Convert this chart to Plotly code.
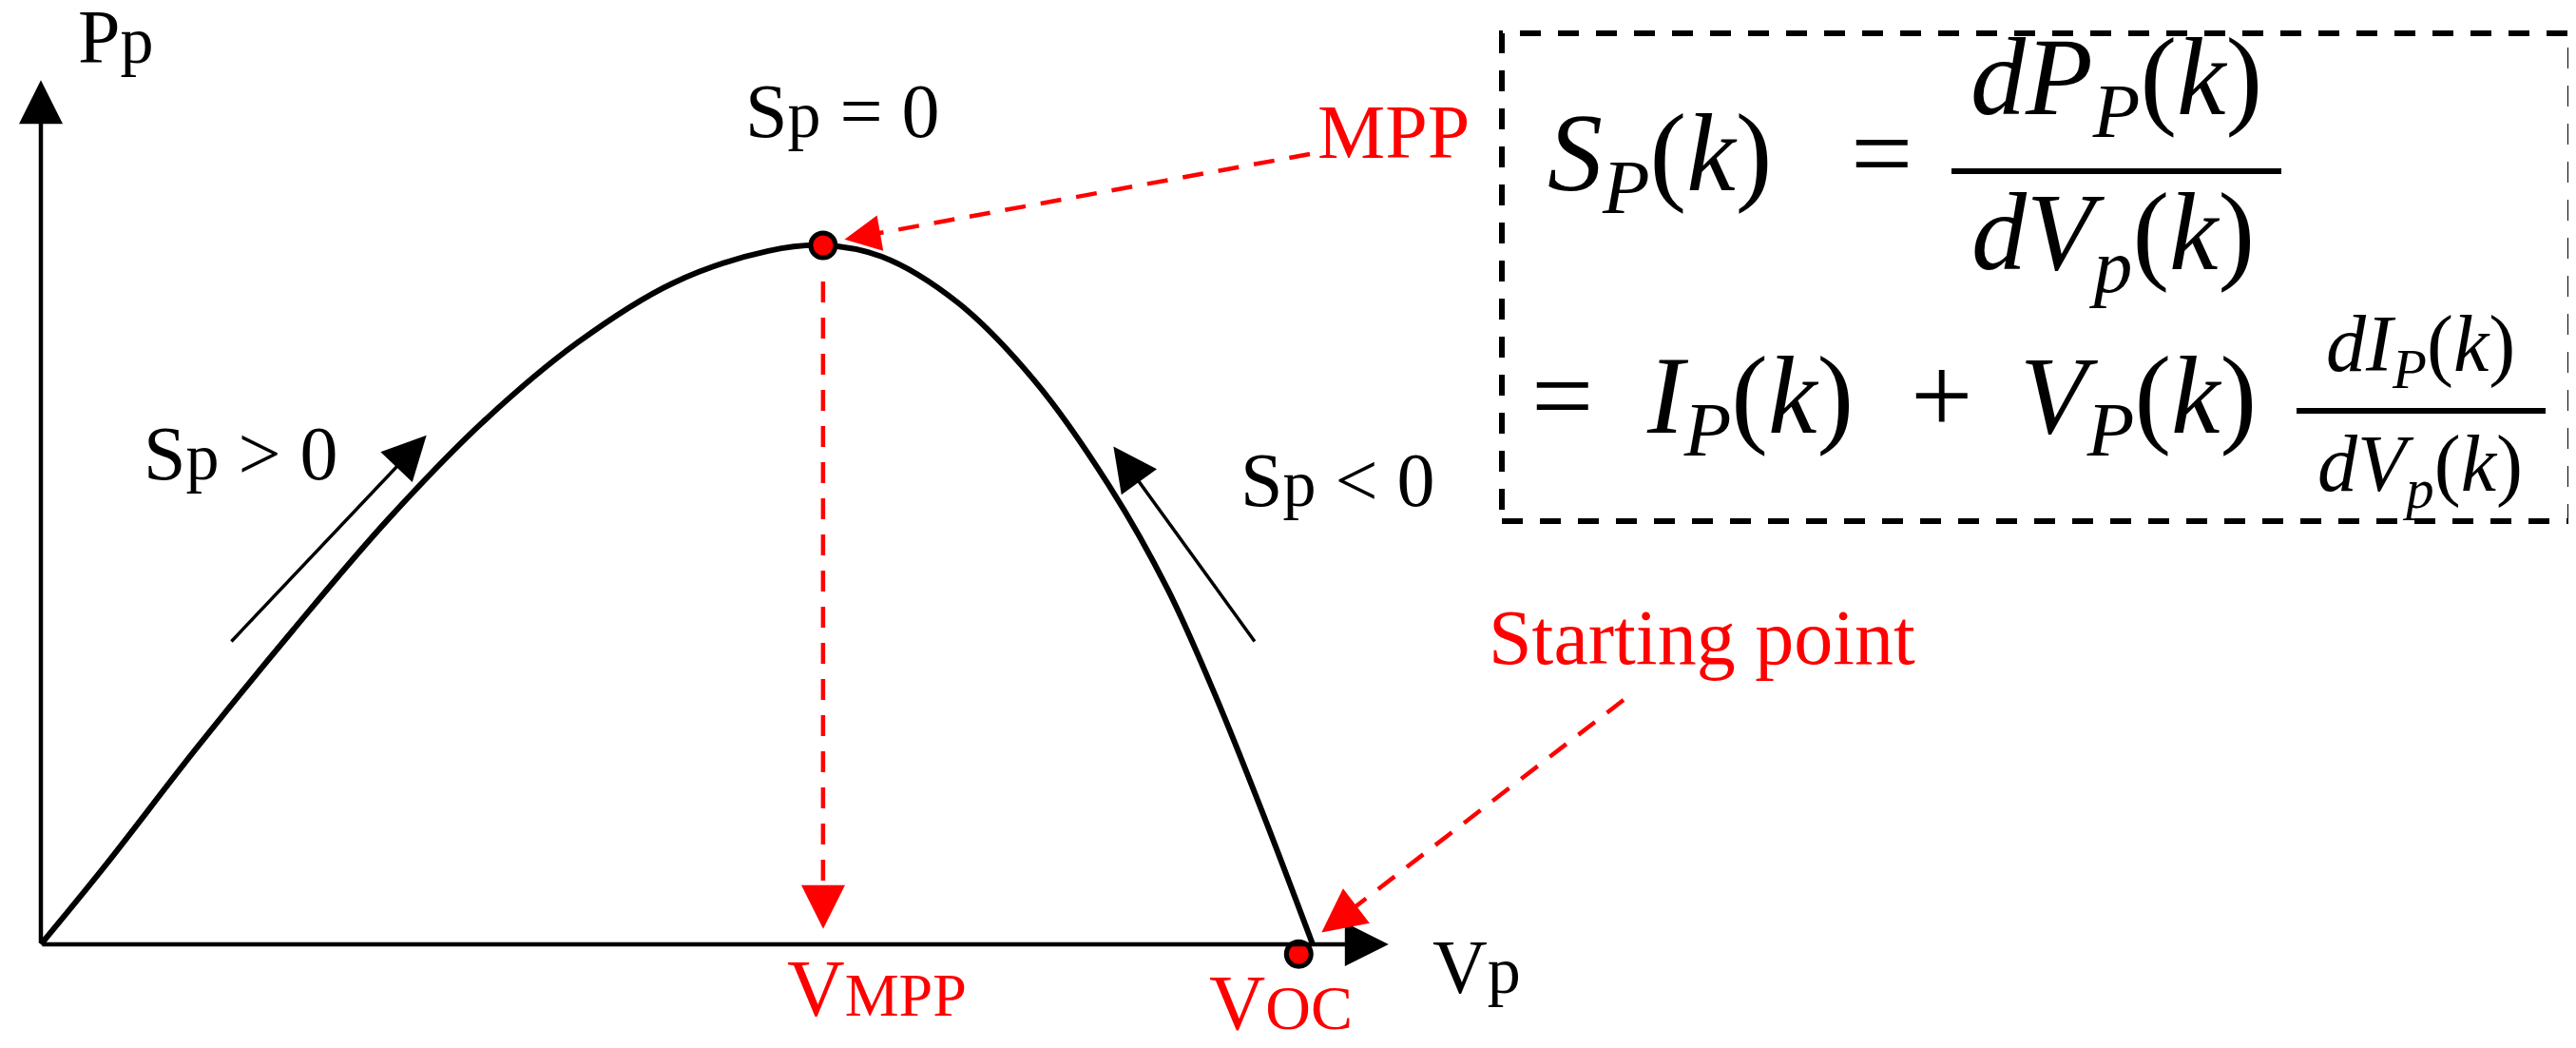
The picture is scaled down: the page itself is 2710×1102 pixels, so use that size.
import plotly.graph_objects as go

# P-V curve: voltage normalised so Voc = 1, power so P(MPP) = 1
v_curve = [0, 0.049, 0.123, 0.198, 0.273, 0.348, 0.422, 0.497, 0.572, 0.615,
           0.661, 0.721, 0.781, 0.841, 0.886, 0.923, 0.960, 1.0]
p_curve = [0, 0.109, 0.282, 0.449, 0.608, 0.748, 0.861, 0.946, 0.992, 1.0,
           0.984, 0.918, 0.807, 0.653, 0.508, 0.358, 0.191, 0.0]
v_mpp, p_mpp = 0.615, 1.0
v_oc, p_oc = 0.989, -0.014

W, H = 2710, 1102
SERIF = "Liberation Serif"
RED = "#ff0000"
LIFT = 8  # px, small vertical correction for text boxes

# pixel <-> data helpers (origin of the sketch at 35,985 px)
def dx(px):
    return (px - 35) / 1338.0

def dy(py):
    return (985 - py) / 735.0

def ppx(px):
    return px / W

def ppy(py):
    return 1 - py / H

fig = go.Figure()

fig.add_trace(go.Scatter(x=v_curve, y=p_curve, mode="lines",
                         line=dict(color="black", width=6, shape="spline", smoothing=1.0),
                         showlegend=False, hoverinfo="skip"))

dash = dict(color=RED, width=4.5, dash="22px,16px")
# Vmpp drop line
fig.add_trace(go.Scatter(x=[v_mpp, v_mpp], y=[dy(288), dy(935)], mode="lines",
                         line=dash, showlegend=False, hoverinfo="skip"))
# MPP pointer
fig.add_trace(go.Scatter(x=[dx(1370), dx(912)], y=[dy(154), dy(238)], mode="lines",
                         line=dash, showlegend=False, hoverinfo="skip"))
# starting point pointer
fig.add_trace(go.Scatter(x=[dx(1700), dx(1412)], y=[dy(728), dy(950)], mode="lines",
                         line=dash, showlegend=False, hoverinfo="skip"))

fig.add_trace(go.Scatter(x=[v_mpp, v_oc], y=[p_mpp, p_oc], mode="markers",
                         marker=dict(size=26, color=RED, line=dict(color="black", width=5)),
                         showlegend=False, hoverinfo="skip"))

annotations = []

def arrow(tip, tail, color, width, head_len):
    s = head_len / 5.0
    annotations.append(dict(x=dx(tip[0]), y=dy(tip[1]), ax=dx(tail[0]), ay=dy(tail[1]),
                            xref="x", yref="y", axref="x", ayref="y", text="",
                            showarrow=True, arrowhead=2, arrowcolor=color,
                            arrowwidth=width, arrowsize=s / width, standoff=s))

# axes
arrow((35, 67), (35, 985), "black", 4.5, 46)
arrow((1462, 985), (35, 985), "black", 4.5, 46)
# direction arrows
arrow((447, 443), (234, 668), "black", 3.5, 46)
arrow((1158, 454), (1313, 668), "black", 3.5, 46)
# red heads
arrow((873, 245), (913, 238), RED, 4.5, 38)
arrow((858, 978), (858, 930), RED, 4.5, 46)
arrow((1375, 978), (1413, 949), RED, 4.5, 46)


def label(text, x, baseline, size, color="black", anchor="left"):
    annotations.append(dict(x=ppx(x), y=ppy(baseline + 2 + 0.216 * size - LIFT), xref="paper", yref="paper",
                            text=text, showarrow=False, xanchor=anchor, yanchor="bottom",
                            font=dict(family=SERIF, size=size, color=color)))

sp = "S<span style='font-size:70px'>p</span>"
label("P<span style='font-size:70px'>p</span>", 72, 66, 80)
label(sp + " = 0", 774, 144, 80)
label("MPP", 1376, 166, 80, RED)
label(sp + " &gt; 0", 141, 504, 80)
label(sp + " &lt; 0", 1295, 532, 80)
label("Starting point", 1556, 698, 82, RED)
label("V<span style='font-size:64px'>MPP</span>", 818, 1068, 84, RED)
label("V<span style='font-size:66px'>OC</span>", 1339, 1082, 82, RED, "center")
label("V<span style='font-size:70px'>p</span>", 1497, 1044, 80)


def math(text, x, baseline, size, anchor="center"):
    annotations.append(dict(x=ppx(x), y=ppy(baseline - 2 - 0.891 * size - LIFT), xref="paper", yref="paper",
                            text=text, showarrow=False, xanchor=anchor, yanchor="top",
                            font=dict(family=SERIF, size=size, color="black")))

F1, F2 = 116, 84
math("<i>S</i><sub><i>P</i></sub>(<i>k</i>)", 1738, 200, F1)
math("=", 1971, 200, F1)
math("<i>dP</i><sub><i>P</i></sub>(<i>k</i>)", 2218, 120, F1)
math("<i>dV</i><sub><i>p</i></sub>(<i>k</i>)", 2215, 283, F1)
math("=", 1635, 455, F1)
math("<i>I</i><sub><i>P</i></sub>(<i>k</i>)", 1833, 455, F1)
math("+", 2034, 455, F1)
math("<i>V</i><sub><i>P</i></sub>(<i>k</i>)", 2241, 455, F1)
math("<i>dI</i><sub><i>P</i></sub>(<i>k</i>)", 2538, 390, F2)
math("<i>dV</i><sub><i>p</i></sub>(<i>k</i>)", 2538, 516, F2)

shapes = [
    dict(type="rect", xref="paper", yref="paper", x0=ppx(1572), x1=ppx(2696), y0=ppy(540), y1=ppy(27),
         line=dict(color="black", width=6, dash="22px,18px")),
    dict(type="line", xref="paper", yref="paper", x0=ppx(2045), x1=ppx(2392), y0=ppy(172), y1=ppy(172),
         line=dict(color="black", width=6)),
    dict(type="line", xref="paper", yref="paper", x0=ppx(2408), x1=ppx(2670), y0=ppy(424), y1=ppy(424),
         line=dict(color="black", width=6)),
]

fig.update_layout(
    width=W, height=H, autosize=False,
    margin=dict(l=0, r=0, t=0, b=0, pad=0),
    paper_bgcolor="white", plot_bgcolor="white",
    xaxis=dict(range=[dx(0), dx(W)], visible=False, fixedrange=True),
    yaxis=dict(range=[dy(H), dy(0)], visible=False, fixedrange=True),
    annotations=annotations, shapes=shapes,
    hovermode=False,
)

fig.write_html("out.html", config={"displayModeBar": False})
